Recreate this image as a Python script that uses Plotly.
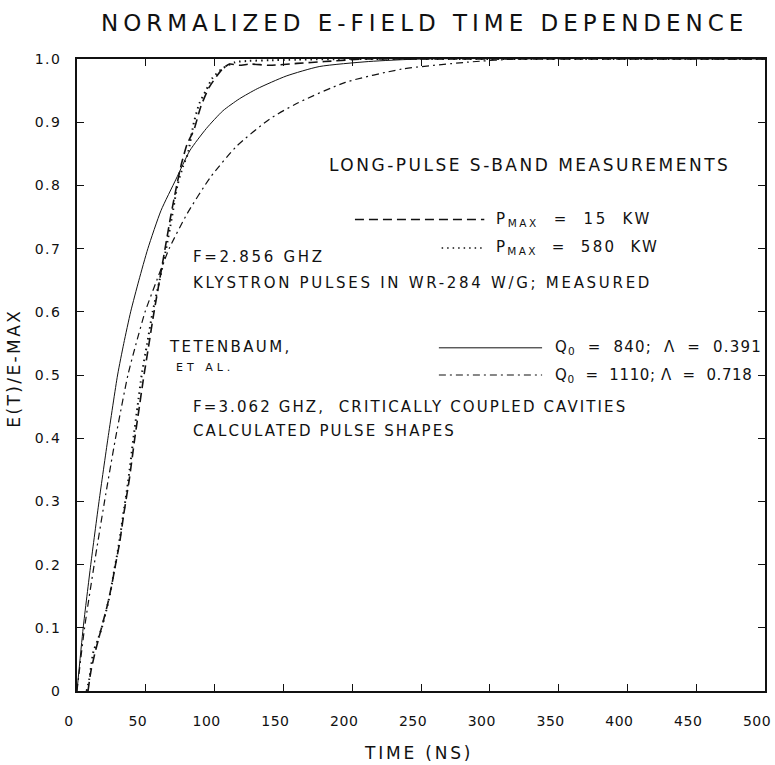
import plotly.graph_objects as go

# ---- data -----------------------------------------------------------------
# Calculated pulse shapes (Tetenbaum et al.), critically coupled cavities
t_q840 = [0, 4.5, 10, 16, 22.5, 29.5, 34, 39, 45, 51.5, 61, 72, 82, 94, 106,
          118, 131, 152, 176, 212, 250, 500]
e_q840 = [0, 0.10, 0.20, 0.30, 0.40, 0.50, 0.55, 0.60, 0.65, 0.70, 0.76, 0.81,
          0.855, 0.89, 0.918, 0.937, 0.953, 0.973, 0.988, 0.996, 1.0, 1.0]

t_q1110 = [0, 5.5, 12.5, 20, 28, 37, 43, 49.5, 58, 67, 80, 97, 116, 140, 160,
           195, 236, 284, 320, 500]
e_q1110 = [0, 0.10, 0.20, 0.30, 0.40, 0.50, 0.55, 0.60, 0.65, 0.70, 0.755,
           0.813, 0.862, 0.905, 0.93, 0.963, 0.984, 0.995, 1.0, 1.0]

# Measured klystron pulses in WR-284 waveguide
t_15kw = [8, 10, 13, 16, 19, 22, 25, 28, 31, 34, 38, 42, 45, 48, 52, 56, 60,
          64, 68, 72, 76, 80, 85, 90, 96, 101.6, 106, 111, 118, 126, 140, 160,
          180, 210, 250, 500]
e_15kw = [0, 0.03, 0.06, 0.085, 0.11, 0.135, 0.165, 0.20, 0.235, 0.28, 0.335,
          0.40, 0.445, 0.49, 0.545, 0.60, 0.65, 0.70, 0.75, 0.795, 0.835, 0.865,
          0.888, 0.925, 0.955, 0.973, 0.985, 0.992, 0.99, 0.992, 0.99, 0.993,
          0.996, 1.0, 1.0, 1.0]

t_580kw = [7, 9, 12, 15, 18, 21, 24, 27, 30, 33.6, 37.2, 41, 44, 47, 51, 55,
           60, 64.8, 69, 73, 77, 80.5, 85, 89, 93.7, 98.5, 105.7, 115, 125, 140,
           160, 200, 250, 500]
e_580kw = [0, 0.02, 0.063, 0.08, 0.10, 0.125, 0.153, 0.19, 0.226, 0.279, 0.332,
           0.40, 0.45, 0.50, 0.55, 0.60, 0.65, 0.70, 0.75, 0.80, 0.83, 0.85,
           0.90, 0.93, 0.95, 0.97, 0.985, 0.995, 0.997, 0.998, 0.999, 1.0, 1.0,
           1.0]

x_ticks = [0, 50, 100, 150, 200, 250, 300, 350, 400, 450, 500]
x_tick_text = ["0", "50", "100", "150", "200", "250", "300", "350", "400",
               "450", "500"]
y_ticks = [0, 0.1, 0.2, 0.3, 0.4, 0.5, 0.6, 0.7, 0.8, 0.9, 1.0]
y_tick_text = ["0", "0.1", "0.2", "0.3", "0.4", "0.5", "0.6", "0.7", "0.8",
               "0.9", "1.0"]

# ---- styling helpers --------------------------------------------------------
FONT = "DejaVu Sans"
INK = "#111111"


def spaced(text, px):
    """Wide letter spacing, like a pen-plotter stroke font."""
    return f'<span style="letter-spacing:{px}px">{text}</span>'


DASH = "9px,5px"
DOT = "1.5px,4px"
DASHDOT = "7px,4px,2px,4px"

fig = go.Figure()

curves = [
    (t_15kw, e_15kw, DASH, 1.6),
    (t_580kw, e_580kw, DOT, 2.0),
    (t_q840, e_q840, "solid", 1.0),
    (t_q1110, e_q1110, DASHDOT, 1.2),
]
for tx, ey, dash, w in curves:
    fig.add_trace(go.Scatter(
        x=tx, y=ey, mode="lines",
        line=dict(color=INK, width=w, dash=dash, shape="spline", smoothing=0.6),
        hoverinfo="skip", showlegend=False,
    ))

# ---- key samples and annotations ------------------------------------------
key_lines = [
    (202, 296, 0.746, DASH, 1.4),
    (265, 296, 0.701, DOT, 1.6),
    (263, 338, 0.543, "solid", 1.0),
    (263, 338, 0.500, DASHDOT, 1.1),
]
shapes = []
for x0, x1, yv, dash, w in key_lines:
    shapes.append(dict(type="line", xref="x", yref="y", x0=x0, x1=x1, y0=yv,
                       y1=yv, line=dict(color=INK, width=w, dash=dash)))

notes = [
    (328.5, 0.8325, "center", "LONG-PULSE S-BAND MEASUREMENTS", 17, 2.5),
    (303, 0.746, "left", "P<sub>MAX</sub>  =  15  KW", 15, 2.6),
    (303, 0.701, "left", "P<sub>MAX</sub>  =  580  KW", 15, 2.3),
    (83, 0.686, "left", "F=2.856 GHZ", 15, 2.7),
    (83, 0.646, "left", "KLYSTRON PULSES IN WR-284 W/G; MEASURED", 15, 2.7),
    (65.6, 0.545, "left", "TETENBAUM,", 15, 2.4),
    (70.6, 0.512, "left", "ET AL.", 11, 4.0),
    (346, 0.543, "left", "Q<sub>0</sub>  =  840;  \u039b  =  0.391", 15, 1.2),
    (346, 0.500, "left", "Q<sub>0</sub>  =  1110; \u039b  =  0.718", 15, 0.6),
    (83, 0.450, "left", "F=3.062 GHZ,  CRITICALLY COUPLED CAVITIES", 15, 2.1),
    (83, 0.411, "left", "CALCULATED PULSE SHAPES", 15, 2.1),
]
annotations = []
for xv, yv, anchor, text, size, sp in notes:
    annotations.append(dict(
        x=xv, y=yv, xref="x", yref="y", xanchor=anchor, yanchor="middle",
        text=spaced(text, sp), showarrow=False,
        font=dict(family=FONT, size=size, color=INK),
    ))

# axis titles
annotations.append(dict(
    x=0.497, y=0, xref="paper", yref="paper", yshift=-62,
    xanchor="center", yanchor="middle", showarrow=False,
    text=spaced("TIME (NS)", 2.8), font=dict(family=FONT, size=17, color=INK),
))
annotations.append(dict(
    x=0, y=0.51, xref="paper", yref="paper", xshift=-63,
    xanchor="center", yanchor="middle", showarrow=False, textangle=-90,
    text=spaced("E(T)/E-MAX", 2.4), font=dict(family=FONT, size=17, color=INK),
))

axis_common = dict(
    showgrid=False, zeroline=False, showline=True, linecolor=INK, linewidth=1.6,
    mirror="ticks", ticks="inside", tickcolor=INK, tickwidth=1.3, ticklen=7,
)

fig.update_layout(
    width=775, height=765,
    margin=dict(l=77, r=4, t=59, b=74),
    paper_bgcolor="white", plot_bgcolor="white",
    title=dict(
        text=spaced("NORMALIZED E-FIELD TIME DEPENDENCE", 5.0),
        x=0.548, xref="container", xanchor="center",
        y=1 - 23 / 765, yref="container", yanchor="middle",
        font=dict(family=FONT, size=23, color=INK),
    ),
    xaxis=dict(
        range=[0, 500], tickvals=x_ticks,
        ticktext=[spaced(s, 0.5) for s in x_tick_text],
        tickfont=dict(family=FONT, size=14, color=INK),
        ticklabelstandoff=16, ticklabelshift=-8, ticklabeloverflow="allow",
        **axis_common,
    ),
    yaxis=dict(
        range=[0, 1.0], tickvals=y_ticks,
        ticktext=[spaced(s, 1.5) for s in y_tick_text],
        tickfont=dict(family=FONT, size=14, color=INK),
        ticklabelstandoff=11, **axis_common,
    ),
    shapes=shapes,
    annotations=annotations,
    showlegend=False,
)

fig.write_html("out.html")
